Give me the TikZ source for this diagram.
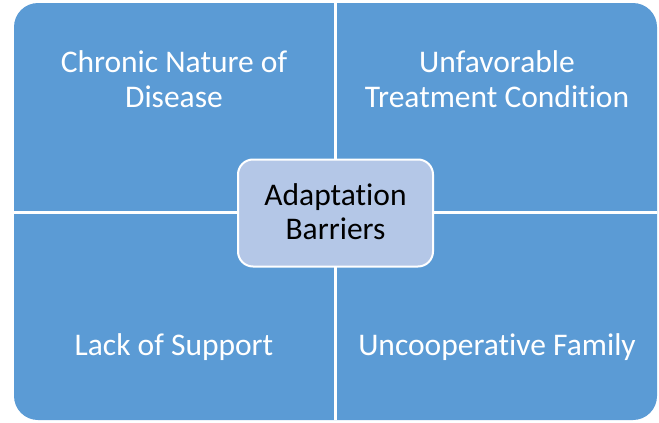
\documentclass[tikz,border=0pt]{standalone}
\usepackage{fontspec}
\setmainfont{Carlito}[RawFeature=-liga]
\definecolor{quad}{HTML}{5B9BD5}
\definecolor{core}{HTML}{B4C7E7}
\begin{document}
\begin{tikzpicture}[x=1pt,y=-1pt,
  quadtext/.style={text=white,align=center,anchor=base,inner sep=0pt,font=\fontsize{31.5}{35}\selectfont},
  coretext/.style={text=black,align=center,anchor=base,inner sep=0pt,font=\fontsize{31.5}{34}\selectfont},
  divider/.style={white,line width=3pt}]
\useasboundingbox (0,0) rectangle (659,423);
\fill[quad,rounded corners=24pt] (14,3) rectangle (657,420);
\draw[divider] (335.5,3) -- (335.5,420);
\draw[divider] (14,212.5) -- (657,212.5);
\node[draw=white,line width=2pt,fill=core,rounded corners=15pt,minimum width=195pt,minimum height=107pt] (core) at (335.5,213) {};
\node[coretext] (coreline1) at (335.5,205) {Adaptation};
\node[coretext] (coreline2) at (335.5,239) {Barriers};
\node[quadtext] (tl1) at (174,72) {Chronic Nature of};
\node[quadtext] (tl2) at (174,107) {Disease};
\node[quadtext] (tr1) at (497,72) {Unfavorable};
\node[quadtext] (tr2) at (497,107) {Treatment Condition};
\node[quadtext] (bl) at (174,355) {Lack of Support};
\node[quadtext] (br) at (497,355) {Uncooperative Family};
\end{tikzpicture}
\end{document}
